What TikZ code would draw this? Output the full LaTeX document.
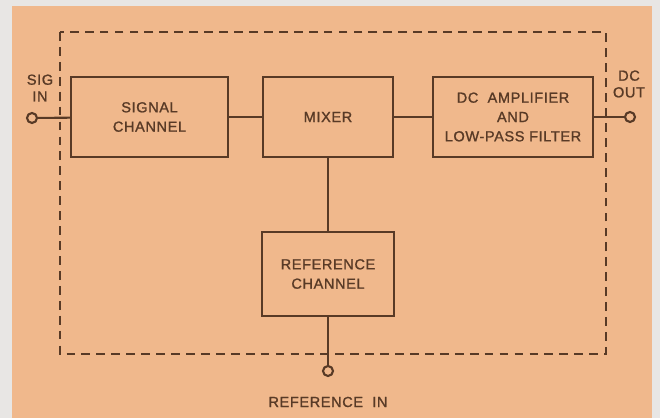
\documentclass[tikz,border=0pt]{standalone}
\usepackage{fontspec}
\setmainfont[LetterSpace=4, FakeBold=1.2]{Liberation Sans}
\usetikzlibrary{positioning}

\definecolor{paper}{RGB}{232,230,228}
\definecolor{plate}{RGB}{240,184,140}
\definecolor{ink}{RGB}{88,58,38}

\begin{document}
\begin{tikzpicture}[x=0.02cm, y=-0.02cm,
    every path/.style={ink},
    block/.style={draw=ink, rectangle, line width=1.2pt, minimum height=1.6cm,
        inner xsep=2pt, align=center, font=\fontsize{8.3}{11}\selectfont, text=ink},
    wire/.style={draw=ink, line width=1.2pt},
    term/.style={draw=ink, circle, line width=1.2pt, inner sep=0pt, minimum size=0.2cm},
    lbl/.style={align=center, font=\fontsize{8.3}{9.5}\selectfont, text=ink, inner sep=0pt}]

    % background
    \fill[paper] (0,0) rectangle (660,418);
    \fill[plate] (12,6) rectangle (652,418);
    \useasboundingbox (0,0) rectangle (660,418);

    % enclosure
    \draw[ink, line width=1.2pt, dash pattern=on 5pt off 3.5pt] (60,32) rectangle (606,354);

    \node[block, minimum width=3.14cm] (sigch) at (149.5,117) {SIGNAL\\CHANNEL};

    \node[block, minimum width=2.6cm] (mixer) at (328,117) {MIXER};

    \node[block, minimum width=3.2cm] (dcamp) at (513,117)
    {DC\ \ AMPLIFIER\\AND\\LOW-PASS\ FILTER};

    \node[block, minimum width=2.64cm, minimum height=1.68cm] (refch) at (328,274)
    {REFERENCE\\CHANNEL};

    \node[term] (sigin) at (32,118) {};
    \node[term] (dcout) at (630,117) {};
    \node[term] (refin) at (328,371) {};

    \node[lbl] (siglbl) at (40,88) {SIG\\IN};
    \node[lbl] (dclbl) at (629,84) {DC\\OUT};
    \node[lbl] (reflbl) at (328,402) {REFERENCE\ \ IN};

    \draw[wire] (sigin) -- (sigch);
    \draw[wire] (sigch) -- (mixer);
    \draw[wire] (mixer) -- (dcamp);
    \draw[wire] (dcamp) -- (dcout);
    \draw[wire] (mixer) -- (refch);
    \draw[wire] (refch) -- (refin);

\end{tikzpicture}
\end{document}
